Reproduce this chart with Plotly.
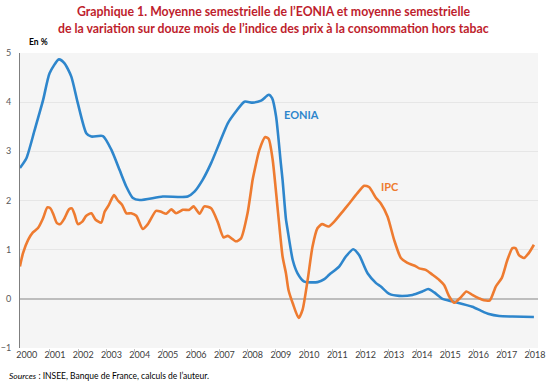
import plotly.graph_objects as go

# ---- data (decimal years, %) ----
eonia_x = [1999.76, 1999.99, 2000.28, 2000.58, 2000.81, 2001.14, 2001.34, 2001.58, 2001.81, 2002.11,
           2002.29, 2002.70, 2003.00, 2003.29, 2003.53, 2003.76, 2004.00, 2004.82, 2005.70, 2005.94,
           2006.23, 2006.53, 2006.82, 2007.12, 2007.41, 2007.71, 2008.00, 2008.30, 2008.57, 2008.69,
           2008.83, 2009.00, 2009.06, 2009.18, 2009.24, 2009.42, 2009.59, 2009.83, 2010.30, 2010.54,
           2010.71, 2011.07, 2011.30, 2011.56, 2011.77, 2012.07, 2012.37, 2012.54, 2012.84, 2013.19,
           2013.66, 2014.01, 2014.22, 2014.43, 2014.72, 2015.07, 2015.78, 2016.08, 2016.37, 2016.73,
           2017.20, 2017.96]
eonia_y = [2.66, 2.86, 3.43, 4.04, 4.59, 4.87, 4.79, 4.52, 3.98, 3.37,
           3.30, 3.31, 3.03, 2.62, 2.28, 2.05, 2.01, 2.08, 2.08, 2.18,
           2.42, 2.76, 3.16, 3.57, 3.81, 4.01, 3.99, 4.03, 4.15, 4.08,
           3.71, 2.75, 2.42, 1.62, 1.40, 0.79, 0.52, 0.35, 0.34, 0.40,
           0.49, 0.66, 0.86, 1.01, 0.89, 0.52, 0.32, 0.25, 0.10, 0.06,
           0.08, 0.15, 0.20, 0.13, 0.00, -0.05, -0.16, -0.24, -0.31, -0.35,
           -0.36, -0.37]

ipc_x = [1999.76, 1999.87, 2000.05, 2000.22, 2000.40, 2000.58, 2000.73, 2000.84, 2000.95, 2001.07,
         2001.19, 2001.34, 2001.50, 2001.60, 2001.70, 2001.81, 2001.97, 2002.11, 2002.29, 2002.44,
         2002.64, 2002.76, 2002.91, 2003.09, 2003.23, 2003.38, 2003.53, 2003.70, 2003.88, 2004.11,
         2004.29, 2004.58, 2004.76, 2004.94, 2005.12, 2005.29, 2005.53, 2005.76, 2005.91, 2006.12,
         2006.29, 2006.53, 2006.76, 2006.97, 2007.12, 2007.41, 2007.59, 2007.82, 2008.00, 2008.06,
         2008.24, 2008.45, 2008.57, 2008.71, 2008.89, 2009.06, 2009.18, 2009.27, 2009.42, 2009.63,
         2009.77, 2009.95, 2010.12, 2010.30, 2010.46, 2010.69, 2010.89, 2011.18, 2011.42, 2011.71,
         2011.95, 2012.13, 2012.37, 2012.54, 2012.78, 2013.01, 2013.25, 2013.48, 2013.78, 2013.90,
         2014.13, 2014.37, 2014.60, 2014.78, 2014.96, 2015.13, 2015.37, 2015.57, 2015.78, 2016.02,
         2016.19, 2016.40, 2016.61, 2016.82, 2017.02, 2017.20, 2017.31, 2017.43, 2017.61, 2017.79,
         2017.96]
ipc_y = [0.66, 0.93, 1.20, 1.35, 1.44, 1.64, 1.86, 1.84, 1.71, 1.54,
         1.52, 1.64, 1.82, 1.84, 1.71, 1.52, 1.57, 1.69, 1.74, 1.61,
         1.55, 1.77, 1.91, 2.11, 2.00, 1.91, 1.74, 1.74, 1.69, 1.42,
         1.52, 1.79, 1.77, 1.73, 1.82, 1.74, 1.81, 1.81, 1.88, 1.73,
         1.88, 1.84, 1.57, 1.25, 1.28, 1.17, 1.23, 1.74, 2.42, 2.59,
         3.03, 3.29, 3.25, 2.83, 1.81, 0.86, 0.52, 0.18, -0.09, -0.39,
         -0.22, 0.39, 1.06, 1.44, 1.52, 1.47, 1.57, 1.77, 1.94, 2.15,
         2.30, 2.27, 2.05, 1.94, 1.67, 1.20, 0.83, 0.73, 0.66, 0.62,
         0.59, 0.49, 0.39, 0.28, 0.05, -0.08, 0.03, 0.15, 0.08, 0.01,
         -0.03, -0.03, 0.25, 0.42, 0.79, 1.03, 1.03, 0.89, 0.83, 0.94,
         1.10]

years = list(range(2000, 2019))
year_labels = [str(y) for y in years]
y_ticks = [-1, 0, 1, 2, 3, 4, 5]

title_lines = ["Graphique 1. Moyenne semestrielle de l’EONIA et moyenne semestrielle",
               "de la variation sur douze mois de l’indice des prix à la consommation hors tabac"]

BLUE = "#2E86CC"
ORANGE = "#EE7B30"
RED = "#BE1E2D"
FONT = "Lato"

# plot area in pixels
L, R, T, B = 20, 538, 53, 348
W, H = 550, 385


def px(x):
    return (x - L) / (R - L)


def py(y):
    return (B - y) / (B - T)


fig = go.Figure()
fig.add_trace(go.Scatter(x=eonia_x, y=eonia_y, mode="lines", name="EONIA",
                         line=dict(color=BLUE, width=2.6, shape="spline", smoothing=0.6)))
fig.add_trace(go.Scatter(x=ipc_x, y=ipc_y, mode="lines", name="IPC",
                         line=dict(color=ORANGE, width=2.6, shape="spline", smoothing=0.6)))

fig.update_layout(
    width=W, height=H,
    margin=dict(l=L, r=W - R, t=T, b=H - B),
    paper_bgcolor="white", plot_bgcolor="#F5F5F5",
    showlegend=False,
    font=dict(family=FONT, size=9, color="#404040"),
    xaxis=dict(range=[1999.763, 2018.105], tickmode="array", tickvals=years, ticktext=year_labels,
               showgrid=False, zeroline=False, showline=False, ticks="", automargin=False,
               tickfont=dict(size=9, color="#404040"),
               minor=dict(tickmode="array", tickvals=[y - 0.18 for y in years[1:]],
                          ticks="outside", ticklen=3, tickcolor="#BFBFBF", showgrid=False)),
    yaxis=dict(range=[-1, 5], tickmode="array", tickvals=y_ticks, automargin=False,
               showgrid=True, gridcolor="#E6E6E6", gridwidth=1,
               zeroline=True, zerolinecolor="#BDBDBD", zerolinewidth=2,
               showline=True, linecolor="#7F7F7F", linewidth=1, ticks="",
               tickfont=dict(size=9, color="#595959"), ticklabelstandoff=6),
)

for line, ypix in zip(title_lines, [12, 28]):
    fig.add_annotation(xref="paper", yref="paper", x=px(273), y=py(ypix),
                       xanchor="center", yanchor="middle", text="<b>" + line + "</b>",
                       showarrow=False, font=dict(family=FONT, size=12.3, color=RED))

fig.add_annotation(x=2009.73, y=3.74, text="<b>EONIA</b>", showarrow=False,
                   font=dict(family=FONT, size=11, color=BLUE))
fig.add_annotation(x=2012.85, y=2.28, text="<b>IPC</b>", showarrow=False,
                   font=dict(family=FONT, size=11, color=ORANGE))
fig.add_annotation(xref="paper", yref="paper", x=px(27), y=py(42),
                   xanchor="left", yanchor="middle", text="<b>En %</b>", showarrow=False,
                   font=dict(family=FONT, size=8.5, color="#000000"))
fig.add_annotation(xref="paper", yref="paper", x=px(7), y=py(376),
                   xanchor="left", yanchor="middle",
                   text="<i>Sources</i> : INSEE, Banque de France, calculs de l’auteur.",
                   showarrow=False, font=dict(family=FONT, size=8.5, color="#000000"))

fig.write_html("out.html", config={"displayModeBar": False},
               post_script="document.body.style.margin='0';")
